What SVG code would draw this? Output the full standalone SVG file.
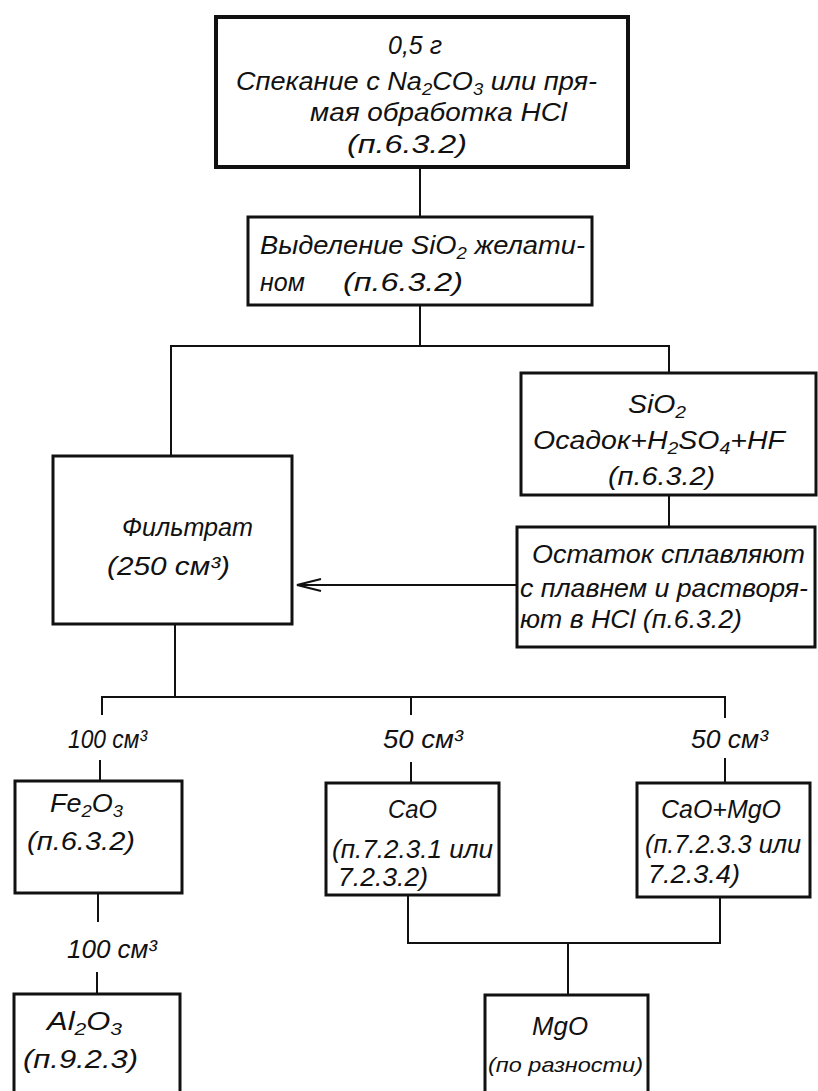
<svg xmlns="http://www.w3.org/2000/svg" width="818" height="1091" viewBox="0 0 818 1091">
<style>
.box{fill:#fff;stroke:#111;stroke-width:3}
.thick{stroke-width:4}
.ln{fill:none;stroke:#111;stroke-width:2}
text{font-family:"Liberation Sans","DejaVu Sans",sans-serif;font-style:italic;font-size:25px;fill:#111}
.sm{font-size:21px}
.sub{font-size:17px}
</style>
<defs>
<marker id="arr" viewBox="0 0 26 14" refX="25" refY="7" markerWidth="26" markerHeight="14" markerUnits="userSpaceOnUse" orient="auto">
<path d="M1,1 L25,7 L1,13" fill="none" stroke="#111" stroke-width="2"/>
</marker>
</defs>
<rect width="818" height="1091" fill="#fff"/>
<g id="connectors">
<path class="ln" d="M420,167 V217"/>
<path class="ln" d="M420,305 V346"/>
<path class="ln" d="M171,456 V346 H669 V373"/>
<path class="ln" d="M669,495 V527"/>
<path class="ln" d="M517,585 H297" marker-end="url(#arr)"/>
<path class="ln" d="M175,624 V697"/>
<path class="ln" d="M102,715 V697 H725 V718"/>
<path class="ln" d="M411,697 V715"/>
<path class="ln" d="M100,760 V781"/>
<path class="ln" d="M411,762 V783"/>
<path class="ln" d="M725,758 V783"/>
<path class="ln" d="M98,893 V922"/>
<path class="ln" d="M97,972 V994"/>
<path class="ln" d="M408,895 V943 H720 V897"/>
<path class="ln" d="M568,943 V995"/>
</g>
<g id="labels">
<text x="68" y="748" textLength="79" lengthAdjust="spacingAndGlyphs">100 см³</text>
<text x="383" y="748" textLength="80" lengthAdjust="spacingAndGlyphs">50 см³</text>
<text x="691" y="748" textLength="77" lengthAdjust="spacingAndGlyphs">50 см³</text>
<text x="67" y="958" textLength="90" lengthAdjust="spacingAndGlyphs">100 см³</text>
</g>
<g id="n-start">
<rect class="box thick" x="216" y="17" width="412" height="150"/>
<text x="388" y="54" textLength="54" lengthAdjust="spacingAndGlyphs">0,5 г</text>
<text x="236" y="90" textLength="361" lengthAdjust="spacingAndGlyphs">Спекание с Na<tspan class="sub" dy="5">2</tspan><tspan dy="-5">CO</tspan><tspan class="sub" dy="5">3</tspan><tspan dy="-5"> или пря-</tspan></text>
<text x="310" y="121" textLength="257" lengthAdjust="spacingAndGlyphs">мая обработка HCl</text>
<text x="347" y="153" textLength="120" lengthAdjust="spacingAndGlyphs">(п.6.3.2)</text>
</g>
<g id="n-sio2-sep">
<rect class="box" x="248" y="217" width="344" height="88"/>
<text x="260" y="254" textLength="325" lengthAdjust="spacingAndGlyphs">Выделение SiO<tspan class="sub" dy="5">2</tspan><tspan dy="-5"> желати-</tspan></text>
<text x="260" y="291">ном</text>
<text x="343" y="291" textLength="120" lengthAdjust="spacingAndGlyphs">(п.6.3.2)</text>
</g>
<g id="n-sio2">
<rect class="box" x="521" y="373" width="295" height="122"/>
<text x="628" y="413" textLength="58" lengthAdjust="spacingAndGlyphs">SiO<tspan class="sub" dy="5">2</tspan></text>
<text x="533" y="449" textLength="252" lengthAdjust="spacingAndGlyphs">Осадок+H<tspan class="sub" dy="5">2</tspan><tspan dy="-5">SO</tspan><tspan class="sub" dy="5">4</tspan><tspan dy="-5">+HF</tspan></text>
<text x="608" y="485" textLength="107" lengthAdjust="spacingAndGlyphs">(п.6.3.2)</text>
</g>
<g id="n-residue">
<rect class="box" x="517" y="527" width="298" height="120"/>
<text x="532" y="563" textLength="273" lengthAdjust="spacingAndGlyphs">Остаток сплавляют</text>
<text x="520" y="597" textLength="288" lengthAdjust="spacingAndGlyphs">с плавнем и растворя-</text>
<text x="520" y="628" textLength="222" lengthAdjust="spacingAndGlyphs">ют в HCl (п.6.3.2)</text>
</g>
<g id="n-filtrate">
<rect class="box" x="53" y="456" width="239" height="168"/>
<text x="122" y="536" textLength="131" lengthAdjust="spacingAndGlyphs">Фильтрат</text>
<text x="107" y="575" textLength="123" lengthAdjust="spacingAndGlyphs">(250 см³)</text>
</g>
<g id="n-fe2o3">
<rect class="box" x="15" y="781" width="167" height="112"/>
<text x="50" y="812" textLength="73" lengthAdjust="spacingAndGlyphs">Fe<tspan class="sub" dy="5">2</tspan><tspan dy="-5">O</tspan><tspan class="sub" dy="5">3</tspan></text>
<text x="27" y="850" textLength="108" lengthAdjust="spacingAndGlyphs">(п.6.3.2)</text>
</g>
<g id="n-al2o3">
<rect class="box" x="14" y="994" width="166" height="110"/>
<text x="47" y="1030" textLength="75" lengthAdjust="spacingAndGlyphs">Al<tspan class="sub" dy="5">2</tspan><tspan dy="-5">O</tspan><tspan class="sub" dy="5">3</tspan></text>
<text x="23" y="1068" textLength="115" lengthAdjust="spacingAndGlyphs">(п.9.2.3)</text>
</g>
<g id="n-cao">
<rect class="box" x="326" y="783" width="173" height="112"/>
<text x="388" y="818" textLength="49" lengthAdjust="spacingAndGlyphs">CaO</text>
<text x="332" y="858" textLength="161" lengthAdjust="spacingAndGlyphs">(п.7.2.3.1 или</text>
<text x="338" y="886" textLength="90" lengthAdjust="spacingAndGlyphs">7.2.3.2)</text>
</g>
<g id="n-caomgo">
<rect class="box" x="637" y="783" width="173" height="114"/>
<text x="661" y="818" textLength="120" lengthAdjust="spacingAndGlyphs">CaO+MgO</text>
<text x="645" y="853" textLength="156" lengthAdjust="spacingAndGlyphs">(п.7.2.3.3 или</text>
<text x="648" y="883" textLength="92" lengthAdjust="spacingAndGlyphs">7.2.3.4)</text>
</g>
<g id="n-mgo">
<rect class="box" x="485" y="995" width="163" height="110"/>
<text x="532" y="1035" textLength="56" lengthAdjust="spacingAndGlyphs">MgO</text>
<text class="sm" x="488" y="1072" textLength="155" lengthAdjust="spacingAndGlyphs">(по разности)</text>
</g>
</svg>
